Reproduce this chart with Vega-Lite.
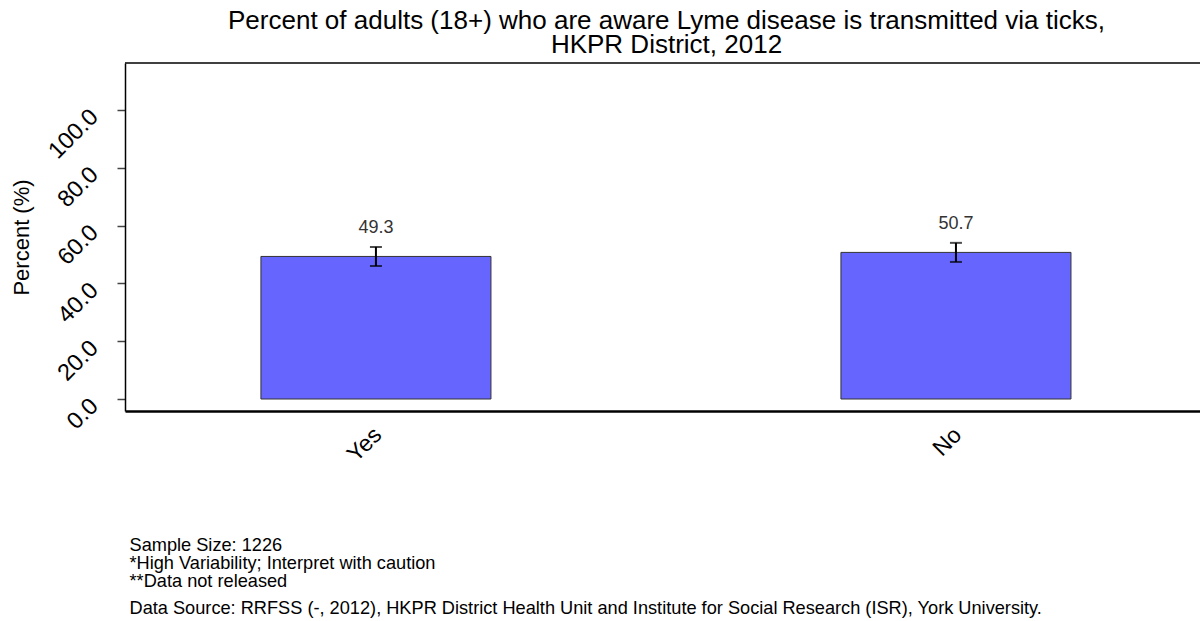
{
  "$schema": "https://vega.github.io/schema/vega-lite/v6.json",
  "autosize": {"type": "none"},
  "padding": {"left": 125, "top": 63, "right": 0, "bottom": 210},
  "width": 1075,
  "height": 348,
  "background": "white",
  "config": {
    "view": {"stroke": null},
    "font": "Liberation Sans",
    "axisY": {
      "labelAngle": -45,
      "labelAlign": "right",
      "labelBaseline": "middle",
      "labelFontSize": 23.5,
      "labelColor": "black",
      "labelPadding": 23,
      "labelOffset": 3,
      "labelOverlap": false,
      "labelBound": false,
      "tickSize": 8,
      "tickColor": "#444444",
      "tickWidth": 1.5,
      "domainColor": "black",
      "domainWidth": 1.5,
      "grid": false,
      "titleFontSize": 22,
      "titleFontWeight": "normal",
      "titleColor": "black"
    }
  },
  "title": {
    "text": ["Percent of adults (18+) who are aware Lyme disease is transmitted via ticks,", "HKPR District, 2012"],
    "fontSize": 26,
    "fontWeight": "normal",
    "font": "Liberation Sans",
    "color": "black",
    "lineHeight": 24,
    "offset": 4,
    "anchor": "middle",
    "dx": 4
  },
  "data": {
    "values": [
      {"response": "Yes", "percent": 49.3, "lower": 46.0, "upper": 52.6, "label": "49.3"},
      {"response": "No", "percent": 50.7, "lower": 47.4, "upper": 54.0, "label": "50.7"}
    ]
  },
  "resolve": {"scale": {"y": "independent"}, "axis": {"y": "independent"}},
  "layer": [
    {
      "encoding": {
        "x": {
          "field": "response",
          "type": "nominal",
          "sort": ["Yes", "No"],
          "scale": {"paddingInner": 0.6034, "paddingOuter": 0.2284, "align": 0.513},
          "axis": {
            "title": ["Sample Size: 1226", "*High Variability; Interpret with caution", "**Data not released"],
            "labelAngle": -45,
            "labelAlign": "right",
            "labelBaseline": "middle",
            "labelFontSize": 23,
            "labelColor": "black",
            "labelPadding": 20,
            "labelOffset": 2,
            "ticks": false,
            "domainColor": "black",
            "domainWidth": 2.5,
            "titleFontSize": 18.2,
            "titleFontWeight": "normal",
            "titleColor": "black",
            "titleAnchor": "start",
            "titleAlign": "left",
            "titleBaseline": "alphabetic",
            "titleX": 4,
            "titleY": 139.7,
            "titleLineHeight": 18
          }
        }
      },
      "layer": [
        {
          "mark": {"type": "bar", "fill": "#6666FF", "stroke": "#333333", "strokeWidth": 1},
          "encoding": {
            "y": {
              "field": "percent",
              "type": "quantitative",
              "title": "Percent (%)",
              "scale": {"domain": [-4.15, 116.2], "nice": false, "zero": false},
              "axis": {
                "orient": "left",
                "values": [0, 20, 40, 60, 80, 100],
                "format": ".1f",
                "titleAngle": -90,
                "titleAlign": "center",
                "titleBaseline": "middle",
                "titleX": -104,
                "titleY": 174
              }
            },
            "y2": {"datum": 0}
          }
        },
        {
          "mark": {"type": "rule", "color": "black", "strokeWidth": 2},
          "encoding": {
            "y": {"field": "lower", "type": "quantitative", "title": "Percent (%)"},
            "y2": {"field": "upper"}
          }
        },
        {
          "mark": {"type": "tick", "color": "black", "size": 12, "thickness": 2},
          "encoding": {
            "y": {"field": "lower", "type": "quantitative", "title": "Percent (%)"}
          }
        },
        {
          "mark": {"type": "tick", "color": "black", "size": 12, "thickness": 2},
          "encoding": {
            "y": {"field": "upper", "type": "quantitative", "title": "Percent (%)"}
          }
        },
        {
          "mark": {"type": "text", "dy": -28, "baseline": "middle", "fontSize": 18, "color": "#333333"},
          "encoding": {
            "y": {"field": "percent", "type": "quantitative", "title": "Percent (%)"},
            "text": {"field": "label"}
          }
        }
      ]
    },
    {
      "data": {"values": [{}]},
      "mark": {"type": "rule", "color": "black", "strokeWidth": 1.5},
      "encoding": {
        "y": {
          "datum": 116.2,
          "type": "quantitative",
          "scale": {"domain": [-4.15, 116.2], "nice": false, "zero": false},
          "axis": {
            "orient": "right",
            "title": "Data Source: RRFSS (-, 2012), HKPR District Health Unit and Institute for Social Research (ISR), York University.",
            "domain": false,
            "ticks": false,
            "labels": false,
            "grid": false,
            "titleAngle": 360,
            "titleAlign": "left",
            "titleBaseline": "alphabetic",
            "titleFontSize": 18.2,
            "titleFontWeight": "normal",
            "titleColor": "black",
            "titleX": -1071,
            "titleY": 550.3
          }
        }
      }
    }
  ]
}
